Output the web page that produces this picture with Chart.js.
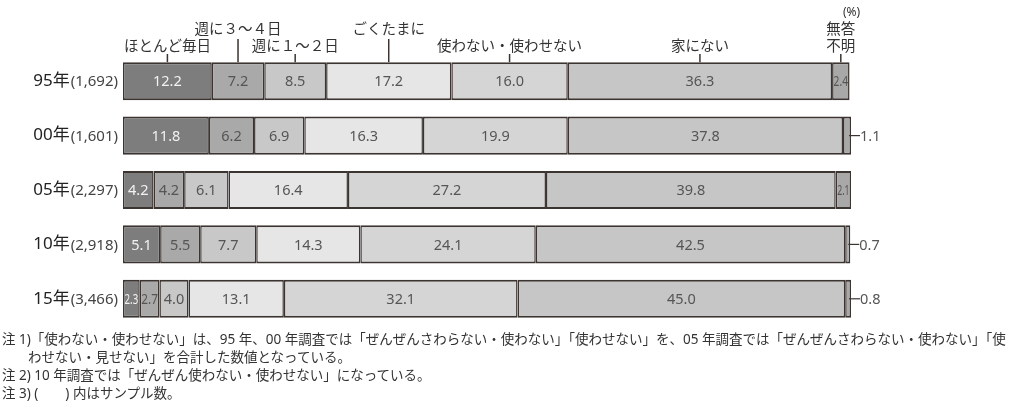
<!DOCTYPE html>
<html lang="ja">
<head>
<meta charset="utf-8">
<script src="https://cdn.jsdelivr.net/npm/chart.js@4"></script>
<style>
    body { margin: 0; background: #fff; width: 1024px; height: 407px; overflow: hidden; position: relative; }
    canvas { position: absolute; left: 0; top: 0; }
    .note { position: absolute; left: 2px; font-family: "Noto Sans", "Noto Sans CJK JP", sans-serif; font-size: 13.5px; color: #333; white-space: nowrap; line-height: 1; }
</style>
</head>
<body>
<canvas id="chart" width="1024" height="407"></canvas>
<div class="note" style="top: 333px;">注 1)「使わない・使わせない」は、95 年、00 年調査では「ぜんぜんさわらない・使わない」「使わせない」を、05 年調査では「ぜんぜんさわらない・使わない」「使</div>
<div class="note" style="top: 351px; left: 28px;">わせない・見せない」を合計した数値となっている。</div>
<div class="note" style="top: 369px;">注 2) 10 年調査では「ぜんぜん使わない・使わせない」になっている。</div>
<div class="note" style="top: 387px;">注 3) (　　) 内はサンプル数。</div>
<script>
// survey years and sample sizes
const years = ['95年', '00年', '05年', '10年', '15年'];
const samples = ['(1,692)', '(1,601)', '(2,297)', '(2,918)', '(3,466)'];

// answer categories (left to right)
const categories = ['ほとんど毎日', '週に３～４日', '週に１～２日', 'ごくたまに', '使わない・使わせない', '家にない', ['無答', '不明']];

// percentages per category, one value per year
const almostDaily = [12.2, 11.8, 4.2, 5.1, 2.3];
const week3to4 = [7.2, 6.2, 4.2, 5.5, 2.7];
const week1to2 = [8.5, 6.9, 6.1, 7.7, 4.0];
const rarely = [17.2, 16.3, 16.4, 14.3, 13.1];
const notUsed = [16.0, 19.9, 27.2, 24.1, 32.1];
const notAtHome = [36.3, 37.8, 39.8, 42.5, 45.0];
const noAnswer = [2.4, 1.1, 2.1, 0.7, 0.8];

const series = [almostDaily, week3to4, week1to2, rarely, notUsed, notAtHome, noAnswer];
const fills = ['#7d7d7d', '#a9a9a9', '#c8c8c8', '#e6e6e6', '#d5d5d5', '#c6c6c6', '#a8a8a8'];
const edge = '#3b3431';
const jpFont = '"Noto Sans", "Noto Sans CJK JP", sans-serif';

// header label row: 0 = lower line, 1 = upper line
const labelRow = [0, 1, 0, 1, 0, 0, 0];

const labelsPlugin = {
    id: 'labels',
    afterDatasetsDraw(chart) {
        const ctx = chart.ctx;
        const xScale = chart.scales.x;
        const yScale = chart.scales.y;
        ctx.save();

        // values inside / beside segments
        chart.data.datasets.forEach((ds, i) => {
            const meta = chart.getDatasetMeta(i);
            meta.data.forEach((el, j) => {
                const v = ds.data[j];
                const w = Math.abs(el.x - el.base);
                ctx.font = '14.5px ' + jpFont;
                ctx.textBaseline = 'middle';
                if (i === series.length - 1 && v < 2) {
                    ctx.strokeStyle = edge;
                    ctx.lineWidth = 1.2;
                    ctx.beginPath();
                    ctx.moveTo(el.x - 2, el.y);
                    ctx.lineTo(el.x + 9, el.y);
                    ctx.stroke();
                    ctx.fillStyle = '#555';
                    ctx.textAlign = 'left';
                    ctx.fillText(v.toFixed(1), el.x + 9, el.y + 1);
                } else {
                    ctx.fillStyle = i === 0 ? '#f2f2f2' : '#555';
                    ctx.textAlign = 'center';
                    ctx.fillText(v.toFixed(1), (el.x + el.base) / 2, el.y + 1, Math.max(w - 3, 4));
                }
            });
        });

        // row labels: year + sample size
        years.forEach((yr, j) => {
            const y = yScale.getPixelForValue(j);
            ctx.textBaseline = 'middle';
            ctx.textAlign = 'right';
            ctx.fillStyle = '#444';
            ctx.font = '15px ' + jpFont;
            const sw = ctx.measureText(samples[j]).width;
            ctx.fillText(samples[j], 118, y + 1);
            ctx.fillStyle = '#222';
            ctx.font = '17px ' + jpFont;
            ctx.fillText(yr, 118 - sw - 1, y);
        });

        // header labels with leader lines to the first bar
        const top = chart.getDatasetMeta(0).data[0];
        const barTop = top.y - top.height / 2;
        let cum = 0;
        series.forEach((s, i) => {
            const mid = xScale.getPixelForValue(cum + s[0] / 2);
            cum += s[0];
            const label = categories[i];
            ctx.fillStyle = '#333';
            ctx.strokeStyle = edge;
            ctx.lineWidth = 1.5;
            ctx.font = '14.5px ' + jpFont;
            ctx.textAlign = 'center';
            ctx.textBaseline = 'middle';
            let lineStart;
            if (Array.isArray(label)) {
                ctx.fillText(label[0], mid, 30);
                ctx.fillText(label[1], mid, 47);
                lineStart = 54;
            } else if (labelRow[i] === 1) {
                ctx.fillText(label, mid, 30);
                lineStart = 39;
            } else {
                ctx.fillText(label, mid, 47);
                lineStart = 54;
            }
            ctx.beginPath();
            ctx.moveTo(mid, lineStart);
            ctx.lineTo(mid, barTop);
            ctx.stroke();
        });

        ctx.font = '12px ' + jpFont;
        ctx.fillStyle = '#333';
        ctx.textAlign = 'left';
        ctx.fillText('(%)', 843, 13);
        ctx.restore();
    }
};

new Chart(document.getElementById('chart'), {
    type: 'bar',
    data: {
        labels: years,
        datasets: series.map((s, i) => ({
            label: Array.isArray(categories[i]) ? categories[i].join('') : categories[i],
            data: s,
            backgroundColor: fills[i],
            borderColor: edge,
            borderWidth: { top: 2, bottom: 2, left: 1.5, right: 1.5 },
            borderSkipped: false,
            categoryPercentage: 1,
            barPercentage: 0.7
        }))
    },
    options: {
        indexAxis: 'y',
        responsive: false,
        animation: false,
        layout: { padding: { left: 123, right: 173, top: 54, bottom: 81 } },
        scales: {
            x: { stacked: true, min: 0, max: 100, display: false },
            y: { stacked: true, display: false }
        },
        plugins: {
            legend: { display: false },
            tooltip: { enabled: false }
        }
    },
    plugins: [labelsPlugin]
});
</script>
</body>
</html>
